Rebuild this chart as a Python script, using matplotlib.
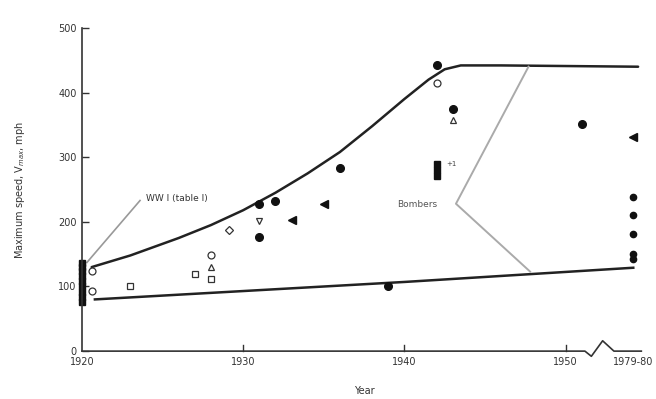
import matplotlib.pyplot as plt
import numpy as np

# break in the year axis: 1979-80 drawn just past 1950
LATE_POS = 1954.2


def pos(year):
    # map a year to its position on the broken axis
    return np.where(np.asarray(year, dtype=float) > 1960, LATE_POS, year)


# envelope curves
upper_years = [1920.6, 1923, 1926, 1928, 1930, 1932, 1934, 1936, 1938, 1940, 1941.5, 1942.5, 1943.5, 1946, 1954.5]
upper_speed = [130, 148, 175, 195, 218, 245, 275, 308, 348, 390, 420, 436, 442, 442, 440]
lower_years = [1920.8, 1940, 1954.2]
lower_speed = [80, 107, 129]

# filled markers
dot_years = [1931, 1932, 1931, 1936, 1939, 1942, 1943, 1951]
dot_speed = [228, 233, 177, 284, 101, 443, 375, 351]
bar_years = [1920, 1920, 1920, 1920, 1920, 1920, 1920, 1920, 1920]
bar_speed = [76, 84, 92, 100, 108, 116, 124, 130, 136]
sq_years = [1942, 1942, 1942]
sq_speed = [290, 280, 271]
tri_years = [1933, 1935, 1979.5]
tri_speed = [203, 228, 331]
late_years = [1979.5, 1979.5, 1979.5, 1979.5, 1979.5]
late_speed = [238, 210, 181, 150, 142]

# open markers
ocirc_years = [1920.6, 1920.6, 1928, 1942]
ocirc_speed = [124, 93, 148, 415]
osq_years = [1923, 1927, 1928]
osq_speed = [101, 120, 112]
otri_years = [1928, 1943]
otri_speed = [130, 358]
otriv_years = [1931]
otriv_speed = [202]
odia_years = [1929.1]
odia_speed = [188]

fig = plt.figure(figsize=(6.56, 3.99), dpi=100)
ax = fig.add_axes([0.125, 0.12, 0.86, 0.81])
plt.rcParams['font.family'] = ['DejaVu Sans']

ax.plot(pos(upper_years), upper_speed, color='#222222', lw=1.8, solid_capstyle='round')
ax.plot(pos(lower_years), lower_speed, color='#222222', lw=1.8)

# leader lines for the labels
ax.plot([1920.3, 1923.6], [137, 233], color='#999999', lw=1.2)
ax.plot([1947.7, 1943.2, 1947.8], [440, 228, 123], color='#aaaaaa', lw=1.4)
ax.text(1924.0, 236, 'WW I (table I)', fontsize=6.5, va='center', color='#333333')
ax.text(1940.8, 227, 'Bombers', fontsize=6.5, va='center', ha='center', color='#555555')
ax.text(1942.6, 290, '+1', fontsize=5, va='center', color='#444444')

kw = dict(ls='none', color='#111111', clip_on=False)
ax.plot(pos(bar_years), bar_speed, marker='s', ms=4, **kw)
ax.plot(pos(dot_years), dot_speed, marker='o', ms=5.5, **kw)
ax.plot(pos(sq_years), sq_speed, marker='s', ms=4.5, **kw)
ax.plot(pos(tri_years), tri_speed, marker='<', ms=5.5, **kw)
ax.plot(pos(late_years), late_speed, marker='o', ms=4.5, **kw)

okw = dict(ls='none', color='#333333', mfc='white', mew=0.9, clip_on=False)
ax.plot(pos(ocirc_years), ocirc_speed, marker='o', ms=5, **okw)
ax.plot(pos(osq_years), osq_speed, marker='s', ms=5, **okw)
ax.plot(pos(otri_years), otri_speed, marker='^', ms=5, **okw)
ax.plot(pos(otriv_years), otriv_speed, marker='v', ms=5, **okw)
ax.plot(pos(odia_years), odia_speed, marker='D', ms=4.5, **okw)

ax.set_xlim(1920, 1955)
ax.set_ylim(0, 500)
ax.set_yticks([0, 100, 200, 300, 400, 500])
ax.set_xticks([1920, 1930, 1940, 1950, LATE_POS])
ax.set_xticklabels(['1920', '1930', '1940', '1950', '1979-80'])
ax.tick_params(direction='in', length=5, width=1, labelsize=7, colors='#333333', pad=4)
ax.tick_params(axis='x', length=0)
for t in [1930, 1940, 1950]:
    ax.plot([t, t], [0, 10], color='#333333', lw=1, clip_on=False)

for s in ['top', 'right', 'bottom']:
    ax.spines[s].set_visible(False)
ax.spines['left'].set_color('#333333')
ax.spines['left'].set_linewidth(1.2)

# bottom axis drawn by hand with a zigzag break
ax.plot([1920, 1951.2, 1951.6, 1952.3, 1953.0, 1954.7],
        [0, 0, -8, 16, 0, 0], color='#333333', lw=1.2, clip_on=False)

ax.set_xlabel('Year', fontsize=7, color='#333333', labelpad=14)
ax.set_ylabel('Maximum speed, V$_{max}$, mph', fontsize=7, color='#333333', labelpad=22)

fig.savefig('out.png', dpi=100)
